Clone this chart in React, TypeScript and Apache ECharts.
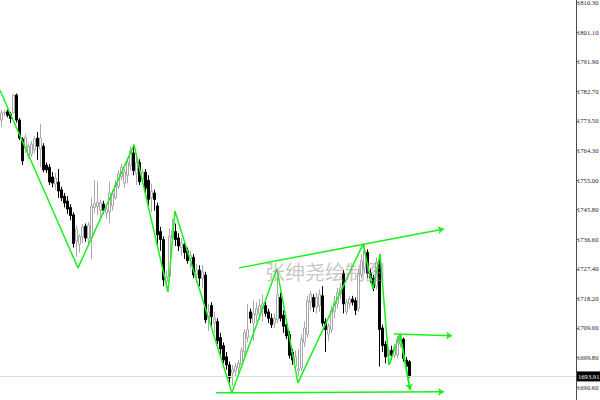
import React, { useEffect, useRef } from "react";
import * as echarts from "echarts";

// Bar slots across the plot (the right part is left empty as chart shift)
const SLOT_COUNT = 192;

// OHLC per bar: [open, close, low, high]
const ohlc: number[][] = [
  [1773.7, 1775.9, 1771.6, 1776.9],
  [1775.9, 1776.1, 1775.0, 1776.8],
  [1776.3, 1775.2, 1774.6, 1777.0],
  [1775.6, 1774.2, 1772.8, 1776.2],
  [1775.9, 1781.5, 1775.6, 1781.8],
  [1781.5, 1773.7, 1772.9, 1782.0],
  [1773.7, 1768.1, 1767.5, 1774.3],
  [1767.8, 1761.0, 1759.7, 1768.4],
  [1765.0, 1768.4, 1763.4, 1769.4],
  [1762.5, 1765.6, 1761.5, 1766.4],
  [1763.1, 1766.2, 1762.2, 1767.2],
  [1764.4, 1767.8, 1763.4, 1768.7],
  [1768.1, 1765.6, 1761.3, 1770.0],
  [1764.7, 1768.1, 1759.0, 1772.6],
  [1765.6, 1758.2, 1757.5, 1766.5],
  [1759.7, 1758.2, 1757.3, 1760.5],
  [1759.0, 1754.4, 1753.5, 1760.0],
  [1756.0, 1754.1, 1752.8, 1757.5],
  [1753.8, 1755.7, 1752.0, 1757.2],
  [1754.4, 1751.6, 1749.5, 1758.5],
  [1752.0, 1749.5, 1748.5, 1753.0],
  [1750.0, 1747.9, 1746.5, 1751.0],
  [1748.5, 1746.0, 1744.5, 1750.0],
  [1746.5, 1744.0, 1742.5, 1747.5],
  [1744.2, 1735.3, 1734.0, 1745.0],
  [1736.0, 1739.8, 1731.2, 1741.0],
  [1735.0, 1737.5, 1732.5, 1738.2],
  [1737.3, 1740.4, 1735.5, 1741.3],
  [1740.7, 1737.0, 1735.8, 1741.5],
  [1736.8, 1741.0, 1735.0, 1742.0],
  [1737.0, 1747.0, 1730.5, 1749.5],
  [1746.5, 1747.6, 1744.8, 1755.0],
  [1746.8, 1748.2, 1744.0, 1754.5],
  [1745.5, 1748.0, 1743.5, 1749.0],
  [1747.6, 1745.6, 1744.5, 1748.6],
  [1744.8, 1746.0, 1743.0, 1747.0],
  [1745.2, 1751.0, 1741.5, 1754.5],
  [1747.0, 1750.5, 1745.5, 1752.0],
  [1749.5, 1753.5, 1749.0, 1755.0],
  [1753.0, 1757.0, 1752.2, 1758.0],
  [1756.0, 1759.0, 1755.0, 1760.0],
  [1754.0, 1757.5, 1752.5, 1758.5],
  [1756.5, 1760.5, 1754.0, 1762.0],
  [1759.5, 1764.0, 1758.0, 1765.5],
  [1763.5, 1758.0, 1756.5, 1766.0],
  [1757.0, 1760.5, 1753.5, 1762.0],
  [1760.5, 1754.5, 1753.5, 1761.5],
  [1755.0, 1757.5, 1754.0, 1758.5],
  [1757.5, 1752.5, 1751.0, 1758.5],
  [1755.0, 1749.0, 1746.0, 1756.5],
  [1749.5, 1751.5, 1745.0, 1754.0],
  [1751.0, 1749.0, 1745.5, 1752.0],
  [1747.0, 1738.0, 1735.0, 1748.0],
  [1739.0, 1736.5, 1733.0, 1740.5],
  [1736.5, 1724.0, 1722.0, 1737.5],
  [1723.5, 1725.0, 1721.5, 1727.0],
  [1725.0, 1737.5, 1723.5, 1740.0],
  [1737.0, 1739.5, 1735.5, 1743.0],
  [1739.0, 1736.5, 1734.5, 1741.5],
  [1737.0, 1734.5, 1733.0, 1738.5],
  [1734.0, 1735.5, 1731.5, 1737.0],
  [1735.0, 1732.5, 1730.5, 1736.0],
  [1733.0, 1730.0, 1729.0, 1734.0],
  [1730.5, 1731.5, 1727.5, 1733.0],
  [1731.0, 1725.5, 1724.5, 1732.0],
  [1725.5, 1727.0, 1723.0, 1729.0],
  [1727.0, 1724.5, 1722.0, 1728.5],
  [1724.5, 1726.5, 1721.5, 1728.5],
  [1725.5, 1711.5, 1710.5, 1726.5],
  [1712.0, 1714.0, 1708.0, 1716.5],
  [1716.0, 1712.5, 1709.5, 1717.0],
  [1710.5, 1712.0, 1707.5, 1714.0],
  [1711.0, 1705.0, 1704.0, 1712.0],
  [1706.0, 1702.5, 1700.5, 1707.5],
  [1703.5, 1699.0, 1698.0, 1704.5],
  [1700.0, 1697.5, 1696.0, 1701.5],
  [1697.5, 1693.5, 1692.0, 1698.5],
  [1695.0, 1696.0, 1690.9, 1697.5],
  [1695.5, 1697.0, 1694.0, 1698.0],
  [1696.5, 1698.0, 1694.5, 1699.0],
  [1697.5, 1702.0, 1696.5, 1703.0],
  [1701.5, 1707.5, 1700.5, 1708.5],
  [1706.0, 1708.5, 1704.5, 1716.5],
  [1714.0, 1712.0, 1710.5, 1715.0],
  [1710.5, 1713.5, 1705.0, 1717.5],
  [1713.0, 1715.0, 1711.0, 1717.0],
  [1713.5, 1716.0, 1711.5, 1718.0],
  [1715.0, 1716.5, 1711.0, 1719.5],
  [1716.0, 1713.5, 1712.5, 1717.0],
  [1714.0, 1712.0, 1710.5, 1715.0],
  [1712.0, 1710.0, 1709.0, 1713.5],
  [1710.5, 1712.0, 1709.0, 1713.5],
  [1711.5, 1719.5, 1710.5, 1725.0],
  [1718.5, 1712.0, 1711.0, 1720.0],
  [1713.0, 1709.5, 1707.5, 1714.5],
  [1710.0, 1706.5, 1705.5, 1711.0],
  [1707.0, 1700.5, 1699.5, 1708.0],
  [1701.5, 1699.0, 1697.5, 1702.5],
  [1697.0, 1700.0, 1695.5, 1702.0],
  [1695.8, 1696.3, 1693.8, 1702.5],
  [1696.5, 1705.5, 1695.5, 1707.0],
  [1704.5, 1709.0, 1703.0, 1711.0],
  [1707.0, 1717.5, 1706.0, 1719.0],
  [1717.0, 1719.5, 1714.5, 1720.5],
  [1718.5, 1715.5, 1714.0, 1719.5],
  [1715.5, 1718.5, 1713.5, 1720.0],
  [1716.0, 1719.5, 1714.0, 1721.0],
  [1719.0, 1710.5, 1709.5, 1722.0],
  [1711.0, 1708.5, 1701.5, 1712.0],
  [1707.0, 1709.5, 1705.0, 1710.5],
  [1708.5, 1714.5, 1707.5, 1716.0],
  [1714.0, 1717.0, 1712.0, 1719.0],
  [1716.5, 1720.0, 1715.0, 1721.5],
  [1719.5, 1721.5, 1718.0, 1723.0],
  [1726.0, 1716.5, 1713.5, 1727.0],
  [1714.0, 1717.0, 1713.0, 1718.0],
  [1716.5, 1718.0, 1715.0, 1719.0],
  [1718.0, 1717.0, 1716.0, 1719.0],
  [1717.5, 1714.5, 1713.0, 1718.5],
  [1715.0, 1726.0, 1714.0, 1727.5],
  [1725.5, 1730.0, 1724.5, 1732.0],
  [1727.5, 1733.0, 1726.0, 1735.0],
  [1732.5, 1726.0, 1724.5, 1733.5],
  [1726.0, 1724.5, 1723.0, 1727.5],
  [1724.5, 1721.5, 1720.5, 1725.5],
  [1722.0, 1729.5, 1721.0, 1731.0],
  [1729.0, 1708.5, 1697.0, 1732.0],
  [1709.0, 1703.5, 1701.5, 1710.0],
  [1704.0, 1700.0, 1698.0, 1705.0],
  [1700.5, 1702.0, 1697.5, 1703.0],
  [1702.0, 1700.5, 1699.0, 1703.5],
  [1700.5, 1703.0, 1699.5, 1704.0],
  [1700.5, 1705.5, 1699.5, 1706.5],
  [1704.0, 1707.0, 1703.0, 1707.5],
  [1705.5, 1699.5, 1698.5, 1706.0],
  [1699.0, 1697.0, 1696.0, 1700.0],
  [1698.5, 1693.91, 1693.5, 1699.0],
];

// Current bid
const lastPrice = 1693.91;

// Price scale labels on the right
const tickLabels = [
  "1690.60", "1699.80", "1709.00", "1718.20", "1727.40", "1736.60", "1745.80",
  "1755.00", "1764.30", "1773.50", "1782.70", "1791.90", "1801.10", "1810.30",
];

// Hand-drawn zigzag: bar position and price of each turning point
const zigzagBar = [-0.5, 25.5, 44.2, 55.5, 57.8, 76.8, 91.8, 98.8, 120.5, 123.8, 126.2, 129.2, 132.8, 136.2];
const zigzagPrice = [1783.0, 1727.7, 1766.0, 1720.2, 1745.4, 1688.8, 1727.4, 1691.9, 1735.1, 1721.1, 1732.0, 1697.5, 1707.1, 1689.7];

// Arrowed trend lines: [startBar, startPrice, endBar, endPrice]
const resistanceLine = [79.2, 1727.7, 147.5, 1739.8];
const shelfLine = [130.8, 1707.1, 150.2, 1706.6];
const supportLine = [71.5, 1688.8, 147.5, 1689.1];

const GREEN = "#19f019";
const SCALE_FONT = "Liberation Sans Narrow";

export default function App() {
  const ref = useRef<HTMLDivElement>(null);

  useEffect(() => {
    if (!ref.current) return;
    const chart = echarts.init(ref.current, null, { renderer: "svg" });

    const slots = Array.from({ length: SLOT_COUNT }, (_, i) => String(i));
    const tickValues = tickLabels.map(Number);
    const zigzag = zigzagBar.map((b, i) => [b, zigzagPrice[i]]);
    const lastLeg = zigzag.slice(-2);
    const seg = (l: number[]) => ({ coords: [[l[0], l[1]], [l[2], l[3]]] });

    chart.setOption({
      animation: false,
      backgroundColor: "#ffffff",
      grid: {
        left: 0,
        right: 24,
        top: 0,
        bottom: 0,
        containLabel: false,
        outerBoundsMode: "none",
      },
      xAxis: [
        { type: "category", data: slots, show: false, boundaryGap: true },
        { type: "value", min: -0.5, max: SLOT_COUNT - 0.5, show: false },
      ],
      yAxis: {
        type: "value",
        position: "right",
        min: 1686.57,
        max: 1811.09,
        scale: true,
        splitLine: { show: false },
        axisLine: { show: true, onZero: false, lineStyle: { color: "#4a4a4a", width: 1 } },
        axisTick: {
          show: true,
          length: 2,
          customValues: tickValues,
          lineStyle: { color: "#4a4a4a" },
        },
        axisLabel: {
          customValues: tickValues,
          margin: 1,
          fontSize: 6.6,
          fontFamily: SCALE_FONT,
          color: "#222222",
          formatter: (v: number) => {
            const idx = tickValues.findIndex((t) => Math.abs(t - v) < 0.01);
            return idx >= 0 ? tickLabels[idx] : "";
          },
        },
      },
      series: [
        {
          type: "candlestick",
          xAxisIndex: 0,
          data: ohlc,
          barWidth: 1.8,
          itemStyle: {
            color: "#ffffff",
            color0: "#000000",
            borderColor: "#a8a8a8",
            borderColor0: "#000000",
            borderWidth: 1,
          },
          markLine: {
            silent: true,
            symbol: ["none", "none"],
            lineStyle: { color: "#dedede", width: 1, type: "solid" },
            label: {
              show: true,
              position: "end",
              distance: 1,
              formatter: () => lastPrice.toFixed(2),
              backgroundColor: "#000000",
              color: "#ffffff",
              fontSize: 6.6,
              fontFamily: SCALE_FONT,
              padding: [2, 1, 1, 1],
            },
            data: [{ yAxis: lastPrice }],
          },
          z: 2,
        },
        {
          type: "line",
          xAxisIndex: 1,
          data: zigzag,
          symbol: "none",
          lineStyle: { color: GREEN, width: 1.5 },
          z: 5,
        },
        {
          type: "lines",
          coordinateSystem: "cartesian2d",
          xAxisIndex: 1,
          symbol: ["none", "arrow"],
          symbolSize: 6,
          lineStyle: { color: GREEN, width: 1.5, opacity: 1 },
          data: [
            seg(resistanceLine),
            seg(shelfLine),
            seg(supportLine),
            { coords: lastLeg },
          ],
          z: 5,
        },
      ],
      graphic: [
        {
          type: "text",
          x: 265,
          y: 271,
          z: 10,
          silent: true,
          style: {
            text: "张绅尧绘制图",
            fontSize: 20,
            fontFamily: "Noto Sans CJK SC",
            fill: "rgba(150,150,150,0.55)",
            verticalAlign: "middle",
          },
        },
      ],
    });

    return () => chart.dispose();
  }, []);

  return (
    <div
      ref={ref}
      style={{ position: "fixed", left: 0, top: 0, width: 600, height: 400 }}
    />
  );
}
